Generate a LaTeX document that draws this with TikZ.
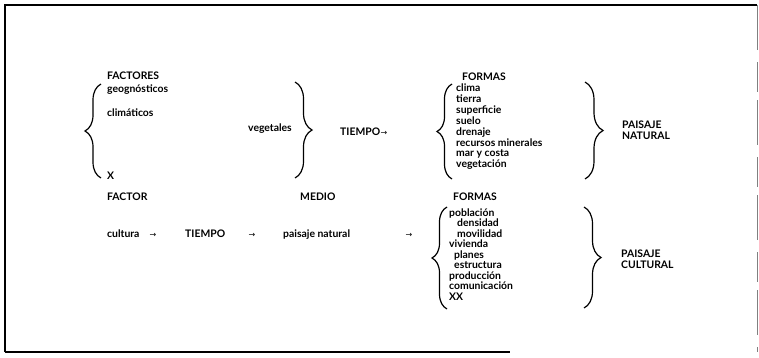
\documentclass[tikz,border=0pt]{standalone}
\usepackage{fontspec}
\setmainfont{Lato}
\newfontfamily\arrowfont{DejaVu Sans}
\usetikzlibrary{decorations.pathreplacing}
\tikzset{
  lbl/.style={anchor=base west, inner sep=0pt, font=\fontsize{10.4}{11}\selectfont\bfseries},
  lble/.style={lbl, anchor=base east},
  arr/.style={anchor=base, inner sep=0pt, font=\fontsize{8}{8}\selectfont\arrowfont},
  bracestyle/.style={decorate, line width=1.2pt, decoration={brace, amplitude=#1}},
  bracestyle/.default=15pt,
  frame/.style={line width=1.6pt},
}
\begin{document}
\begin{tikzpicture}[x=1pt,y=-1pt]
\useasboundingbox (0,0) rectangle (759,357);
% frame
\draw[frame] (5,352) -- (5,5) -- (757,5);
\draw[line width=1.2pt] (5,352) -- (510,352);
\draw[gray, line width=0.6pt, dash pattern=on 45pt off 12pt on 30pt off 8pt] (757,5) -- (757,352);

% ---- upper part ----
\node[lbl] (factores) at (107,79.5) {FACTORES};
\node[lbl] (geog) at (107,92.5) {geognósticos};
\node[lbl] (clim) at (107,116) {climáticos};
\node[lbl] (x) at (107,179.5) {X};
\coordinate (b1b) at (101,178);
\coordinate (b1t) at (101,84);
\draw[bracestyle=16pt] (b1b) -- (b1t);

\node[lble] (veg) at (292,131.5) {vegetales};
\coordinate (b2t) at (295,82);
\coordinate (b2b) at (295,178);
\draw[bracestyle=17pt] (b2t) -- (b2b);

\node[lbl] (tiempo1) at (340,135) {TIEMPO};
\node[arr, anchor=base west] (a1) at (tiempo1.base east) {→};

\node[lbl] (formas1) at (462,80) {FORMAS};
\coordinate (b3b) at (452,179);
\coordinate (b3t) at (452,84);
\draw[bracestyle=15pt] (b3b) -- (b3t);
\node[lbl] (f1) at (456,91.5) {clima};
\node[lbl] (f2) at (456,102.4) {tierra};
\node[lbl] (f3) at (456,113.3) {superficie};
\node[lbl] (f4) at (456,124.2) {suelo};
\node[lbl] (f5) at (456,135.1) {drenaje};
\node[lbl] (f6) at (456,146) {recursos minerales};
\node[lbl] (f7) at (456,156.9) {mar y costa};
\node[lbl] (f8) at (456,167.8) {vegetación};

\coordinate (b4t) at (585,82);
\coordinate (b4b) at (585,179);
\draw[bracestyle=18pt] (b4t) -- (b4b);
\node[lbl] (pn1) at (622,128) {PAISAJE};
\node[lbl] (pn2) at (622,139) {NATURAL};

% ---- lower part ----
\node[lbl] (factor) at (107,200) {FACTOR};
\node[lbl] (medio) at (300,200) {MEDIO};
\node[lbl] (formas2) at (453,200) {FORMAS};

\node[lbl] (cultura) at (107,237) {cultura};
\node[arr] (a2) at (153,237) {→};
\node[lbl] (tiempo2) at (185,237) {TIEMPO};
\node[arr] (a3) at (252,237) {→};
\node[lbl] (pnat) at (283,237) {paisaje natural};
\node[arr] (a4) at (409,237) {→};

\coordinate (b5b) at (447,309);
\coordinate (b5t) at (447,207);
\draw[bracestyle=15pt] (b5b) -- (b5t);
\node[lbl] (g1) at (449,216) {población};
\node[lbl] (g2) at (457,226.5) {densidad};
\node[lbl] (g3) at (457,237) {movilidad};
\node[lbl] (g4) at (449,247.5) {vivienda};
\node[lbl] (g5) at (454,258) {planes};
\node[lbl] (g6) at (454,268.5) {estructura};
\node[lbl] (g7) at (449,279) {producción};
\node[lbl] (g8) at (449,289.5) {comunicación};
\node[lbl] (g9) at (449,300) {XX};

\coordinate (b6t) at (584,207);
\coordinate (b6b) at (584,308);
\draw[bracestyle=17pt] (b6t) -- (b6b);
\node[lbl] (pc1) at (621,257) {PAISAJE};
\node[lbl] (pc2) at (621,268) {CULTURAL};
\end{tikzpicture}
\end{document}
